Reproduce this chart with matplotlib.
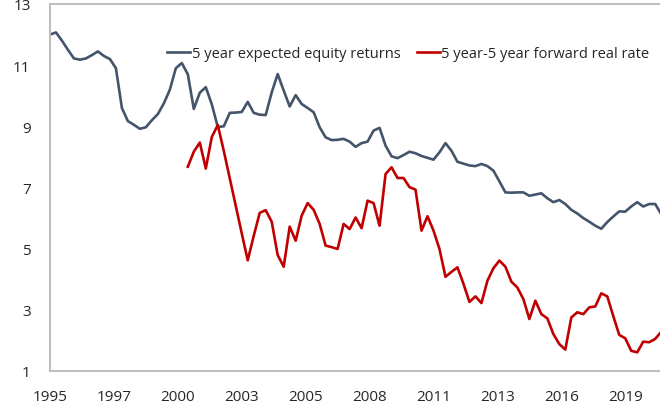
import numpy as np
import matplotlib
matplotlib.use('Agg')
import matplotlib.pyplot as plt

plt.rcParams['font.family'] = ['Open Sans', 'DejaVu Sans']

# quarterly observations
START_EQ = 1995.0
START_RR = 2000.75

equity_returns = [
    12.0, 12.07, 11.8, 11.5,
    11.22, 11.18, 11.22, 11.33,
    11.45, 11.3, 11.2, 10.9,
    9.6, 9.17, 9.05, 8.92,
    8.97, 9.2, 9.4, 9.75,
    10.2, 10.9, 11.07, 10.7,
    9.57, 10.1, 10.28, 9.72,
    8.98, 9.0, 9.44, 9.45,
    9.47, 9.8, 9.44, 9.38,
    9.37, 10.11, 10.71, 10.17,
    9.65, 10.02, 9.73, 9.6,
    9.46, 8.97, 8.64, 8.55,
    8.56, 8.59, 8.5, 8.33,
    8.45, 8.5, 8.86, 8.95,
    8.37, 8.02, 7.96, 8.06,
    8.17, 8.12, 8.03, 7.97,
    7.91, 8.15, 8.45, 8.2,
    7.84, 7.78, 7.72, 7.7,
    7.77, 7.7, 7.55, 7.2,
    6.84, 6.83, 6.84, 6.84,
    6.73, 6.77, 6.81, 6.65,
    6.52, 6.59, 6.46, 6.27,
    6.15, 6.0, 5.88, 5.75,
    5.65, 5.87, 6.05, 6.22,
    6.21, 6.38, 6.52, 6.38,
    6.46, 6.46, 6.13,
]

real_rate = [
    7.68,
    8.17, 8.47, 7.62, 8.65,
    9.04, 8.2, 7.3, 6.4,
    5.5, 4.62, 5.42, 6.17,
    6.26, 5.88, 4.79, 4.41,
    5.72, 5.26, 6.08, 6.49,
    6.27, 5.81, 5.1, 5.05,
    4.99, 5.81, 5.64, 6.02,
    5.67, 6.57, 6.49, 5.75,
    7.44, 7.66, 7.31, 7.31,
    7.01, 6.93, 5.59, 6.06,
    5.59, 4.99, 4.08, 4.24,
    4.39, 3.85, 3.26, 3.44,
    3.22, 3.95, 4.36, 4.61,
    4.41, 3.92, 3.73, 3.35,
    2.7, 3.3, 2.86, 2.72,
    2.21, 1.88, 1.7, 2.75,
    2.92, 2.86, 3.08, 3.11,
    3.54, 3.44, 2.8, 2.18,
    2.07, 1.66, 1.61, 1.96,
    1.94, 2.05, 2.28,
]

x_labels = ['1995', '1997', '2000', '2003', '2005',
            '2008', '2011', '2013', '2016', '2019']
y_ticks = [1, 3, 5, 7, 9, 11, 13]

labels = ['5 year expected equity returns', '5 year-5 year forward real rate']
colors = ['#44546A', '#C00000']

t_eq = START_EQ + 0.25 * np.arange(len(equity_returns))
t_rr = START_RR + 0.25 * np.arange(len(real_rate))

fig = plt.figure(figsize=(6.6, 4.06), dpi=100)
ax = fig.add_axes([50 / 660, 1 - 372 / 406, 610 / 660, 367 / 406])

ax.plot(t_eq, equity_returns, color=colors[0], lw=1.9, label=labels[0],
        solid_joinstyle='round')
ax.plot(t_rr, real_rate, color=colors[1], lw=1.9, label=labels[1],
        solid_joinstyle='round')

ax.set_xlim(1995.0, 2020.45)
ax.set_ylim(1, 13)
ax.set_yticks(y_ticks)
ax.set_xticks([1995 + k * 8 / 3 for k in range(len(x_labels))])
ax.set_xticklabels(x_labels)
ax.tick_params(axis='both', length=0, labelsize=11, colors='#262626')
ax.tick_params(axis='y', pad=14)
ax.tick_params(axis='x', pad=13)

for side in ['left', 'bottom', 'top']:
    ax.spines[side].set_color('#BFBFBF')
    ax.spines[side].set_linewidth(1.5)
ax.spines['right'].set_visible(False)

leg = ax.legend(loc='center left', bbox_to_anchor=(167 / 660, 1 - 55 / 406),
                bbox_transform=fig.transFigure, ncol=2, frameon=False,
                handlelength=1.6, handletextpad=0.1, columnspacing=1.1,
                borderaxespad=0, borderpad=0, fontsize=10.5)
for t in leg.get_texts():
    t.set_color('#262626')

fig.savefig('out.png', dpi=100)
